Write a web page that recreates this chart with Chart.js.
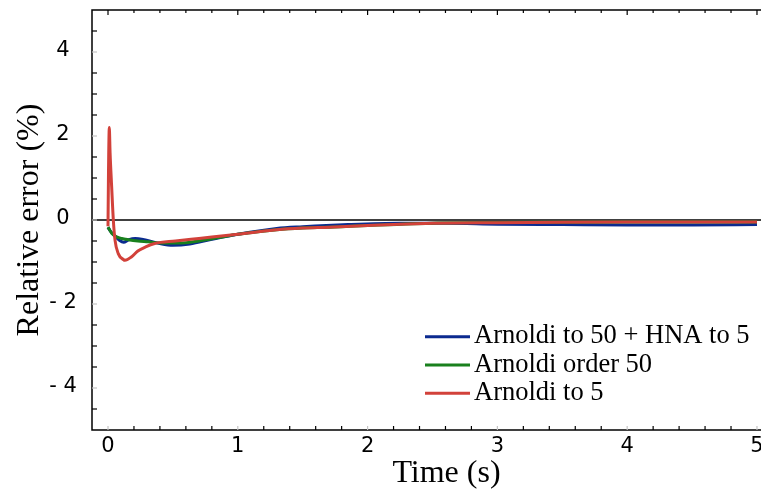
<!DOCTYPE html>
<html>
<head>
<meta charset="utf-8">
<script src="https://cdn.jsdelivr.net/npm/chart.js@4/dist/chart.umd.min.js"></script>
<style>
  html, body { margin: 0; padding: 0; background: #fff; }
  canvas { display: block; }
</style>
</head>
<body>
<canvas id="c" width="761" height="492"></canvas>
<script>
// ---- data ----
const seriesLabels = ['Arnoldi to 50 + HNA to 5', 'Arnoldi order 50', 'Arnoldi to 5'];

const blueT = [0, 0.015, 0.05, 0.09, 0.12, 0.16, 0.21, 0.28, 0.4, 0.5, 0.63, 0.8, 1.0, 1.3, 1.5, 1.85, 2.25, 2.6, 3.0, 3.5, 4.0, 4.5, 5.0];
const blueY = [-0.17, -0.25, -0.37, -0.49, -0.53, -0.47, -0.44, -0.47, -0.56, -0.6, -0.57, -0.46, -0.34, -0.2, -0.16, -0.11, -0.08, -0.08, -0.1, -0.11, -0.12, -0.12, -0.11];

const greenT = [0, 0.03, 0.067, 0.105, 0.157, 0.23, 0.31, 0.41, 0.55, 0.7, 0.85, 1.0, 1.3, 1.5, 1.8, 2.0, 2.5, 3.0, 3.5, 4.0, 4.5, 5.0];
const greenY = [-0.17, -0.32, -0.4, -0.44, -0.47, -0.5, -0.52, -0.55, -0.55, -0.5, -0.42, -0.34, -0.23, -0.19, -0.16, -0.13, -0.075, -0.06, -0.055, -0.05, -0.05, -0.05];

const redT = [0, 0.004, 0.01, 0.016, 0.028, 0.041, 0.054, 0.079, 0.118, 0.131, 0.18, 0.23, 0.29, 0.36, 0.52, 0.7, 1.0, 1.3, 1.5, 1.7, 2.0, 2.25, 2.5, 3.0, 3.5, 4.0, 4.5, 5.0];
const redY = [-0.15, 1.2, 2.2, 1.6, 0.8, 0.0, -0.48, -0.8, -0.94, -0.96, -0.88, -0.74, -0.64, -0.56, -0.5, -0.44, -0.34, -0.23, -0.19, -0.17, -0.13, -0.1, -0.08, -0.065, -0.055, -0.05, -0.05, -0.05];

const xTickValues = [0, 1, 2, 3, 4, 5];
const xTickLabels = ['0', '1', '2', '3', '4', '5'];
const yTickValues = [-4, -2, 0, 2, 4];
const yTickLabels = ['- 4', '- 2', '0', '2', '4'];

const xTitle = 'Time (s)';
const yTitle = 'Relative error (%)';

// ---- build ----
const pts = (t, v) => t.map((x, i) => ({ x: x, y: v[i] }));
const colors = ['#0b2a8f', '#19801d', '#d2413a'];

const framePlugin = {
  id: 'frame',
  beforeDatasetsDraw(chart) {
    const { ctx, chartArea: a, scales: { y } } = chart;
    ctx.save();
    ctx.strokeStyle = '#000';
    ctx.lineWidth = 1.4;
    const y0 = y.getPixelForValue(0);
    ctx.beginPath(); ctx.moveTo(a.left, y0); ctx.lineTo(a.right, y0); ctx.stroke();
    ctx.restore();
  },
  afterDatasetsDraw(chart) {
    const { ctx, chartArea: a, scales: { x, y } } = chart;
    ctx.save();
    // frame
    ctx.strokeStyle = '#000';
    ctx.lineWidth = 1.5;
    ctx.beginPath();
    ctx.moveTo(a.right, a.top); ctx.lineTo(a.left, a.top); ctx.lineTo(a.left, a.bottom); ctx.lineTo(a.right, a.bottom);
    ctx.stroke();
    ctx.lineWidth = 1.2;
    // y ticks (every 0.5)
    for (let k = -9; k <= 9; k++) {
      const v = k / 2;
      const py = y.getPixelForValue(v);
      ctx.strokeStyle = yTickValues.includes(v) ? '#c4c4c4' : '#000';
      ctx.beginPath(); ctx.moveTo(a.left, py); ctx.lineTo(a.left + 5, py); ctx.stroke();
    }
    // x ticks (every 0.2), bottom and top
    for (let k = 0; k <= 25; k++) {
      const v = Math.round(k * 2) / 10;
      const px = x.getPixelForValue(v);
      const major = xTickValues.includes(v);
      ctx.strokeStyle = major ? '#c4c4c4' : '#000';
      ctx.beginPath(); ctx.moveTo(px, a.bottom); ctx.lineTo(px, a.bottom - 4); ctx.stroke();
      ctx.strokeStyle = '#000';
      ctx.beginPath(); ctx.moveTo(px, a.top); ctx.lineTo(px, a.top + (major ? 5 : 3)); ctx.stroke();
    }
    // tick labels
    ctx.fillStyle = '#000';
    ctx.font = '21px "DejaVu Sans"';
    ctx.textAlign = 'center';
    ctx.textBaseline = 'alphabetic';
    xTickValues.forEach((v, i) => {
      ctx.fillText(xTickLabels[i], x.getPixelForValue(v), a.bottom + 22);
    });
    yTickValues.forEach((v, i) => {
      ctx.fillText(yTickLabels[i], a.left - 29, y.getPixelForValue(v) + 3.5);
    });
    ctx.restore();
  },
  afterDraw(chart) {
    const { ctx, chartArea: a } = chart;
    ctx.save();
    ctx.font = '26.5px "Liberation Serif"';
    ctx.textAlign = 'left';
    ctx.textBaseline = 'alphabetic';
    ctx.lineWidth = 3;
    let ly = a.bottom - 93.3;
    chart.data.datasets.forEach(ds => {
      ctx.strokeStyle = ds.borderColor;
      ctx.beginPath(); ctx.moveTo(a.right - 336, ly); ctx.lineTo(a.right - 291, ly); ctx.stroke();
      ctx.fillStyle = '#000';
      ctx.fillText(ds.label, a.right - 287, ly + 6.6);
      ly += 28.3;
    });
    ctx.restore();
  }
};

new Chart(document.getElementById('c'), {
  type: 'line',
  data: {
    datasets: [
      { label: seriesLabels[0], data: pts(blueT, blueY), borderColor: colors[0], order: 3 },
      { label: seriesLabels[1], data: pts(greenT, greenY), borderColor: colors[1], order: 2 },
      { label: seriesLabels[2], data: pts(redT, redY), borderColor: colors[2], order: 1 }
    ]
  },
  options: {
    responsive: false,
    animation: false,
    devicePixelRatio: 1,
    layout: { padding: { top: 10, left: 0, right: 0, bottom: 0 } },
    elements: {
      point: { radius: 0 },
      line: { borderWidth: 3, cubicInterpolationMode: 'monotone', fill: false }
    },
    plugins: { legend: { display: false }, tooltip: { enabled: false } },
    scales: {
      x: {
        type: 'linear',
        min: -0.1233,
        max: 5.031,
        grid: { display: false },
        border: { display: false },
        ticks: { display: false },
        title: {
          display: true,
          text: '     ' + xTitle,
          color: '#000',
          font: { family: 'Liberation Serif', size: 32 },
          padding: { top: 0, bottom: -1 }
        },
        afterFit(s) { s.height = 62; s.paddingLeft = 0; s.paddingRight = 0; }
      },
      y: {
        type: 'linear',
        min: -5,
        max: 5,
        grid: { display: false },
        border: { display: false },
        ticks: { display: false },
        title: {
          display: true,
          text: yTitle,
          color: '#000',
          font: { family: 'Liberation Serif', size: 32 },
          padding: { top: 10, bottom: 0 }
        },
        afterFit(s) { s.width = 92; s.paddingTop = 0; s.paddingBottom = 0; }
      }
    }
  },
  plugins: [framePlugin]
});
</script>
</body>
</html>
